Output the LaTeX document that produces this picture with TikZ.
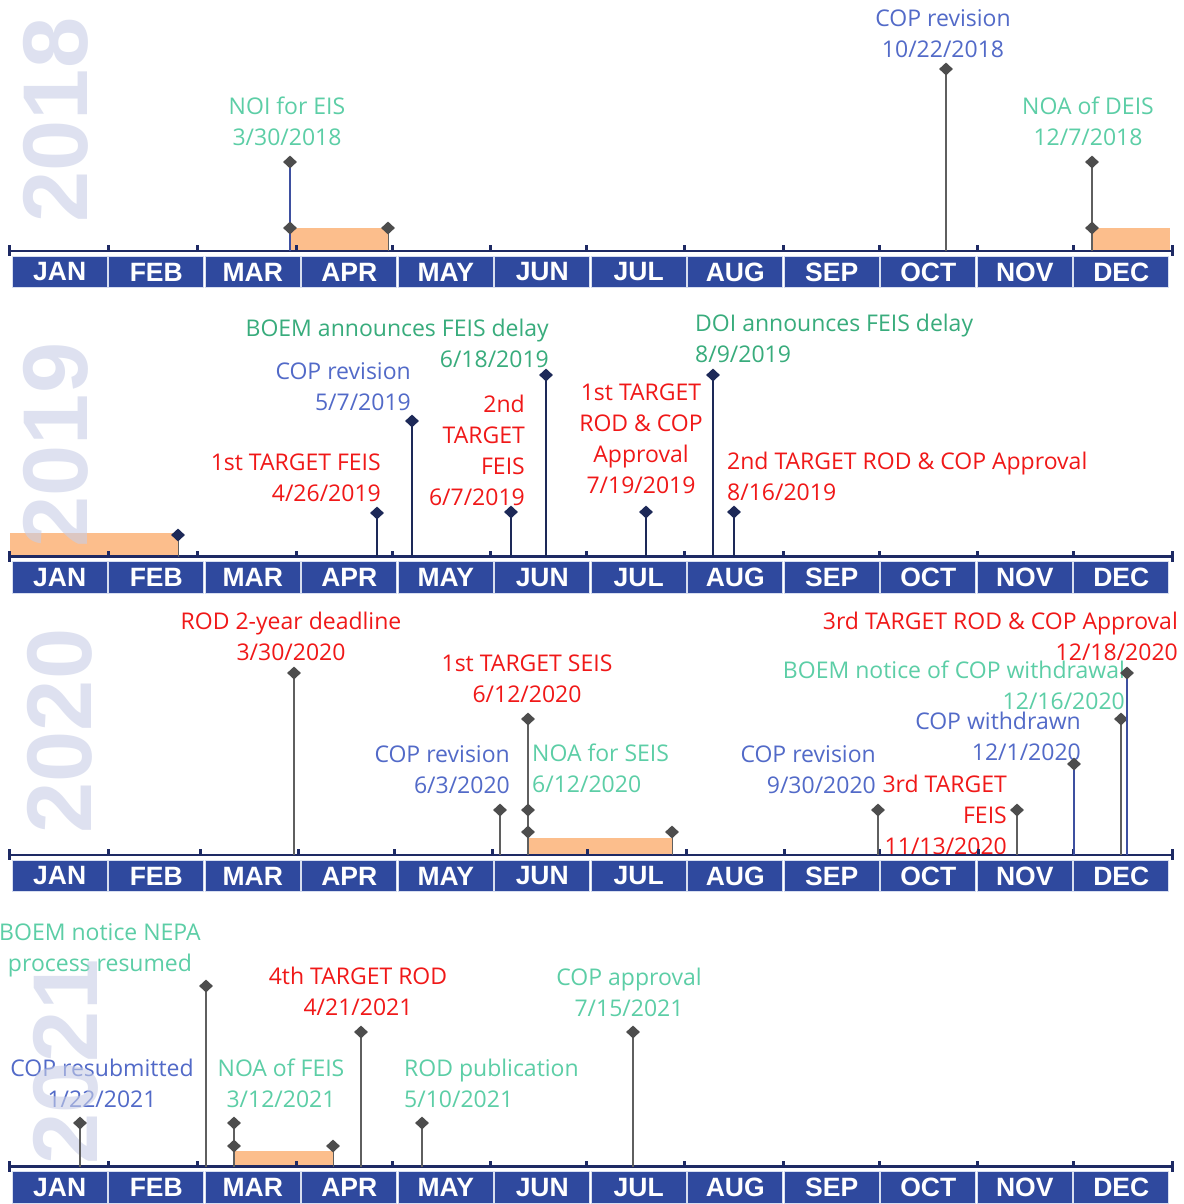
\documentclass[tikz,border=0pt]{standalone}
\usepackage{fontspec}
\setmainfont{Open Sans}
\newfontfamily\monthfont{Liberation Sans}
\usetikzlibrary{shapes.geometric}

\definecolor{evgreen}{RGB}{92,206,166}
\definecolor{evgreendk}{RGB}{56,172,124}
\definecolor{evblue}{RGB}{82,106,200}
\definecolor{evred}{RGB}{240,24,24}
\definecolor{axisnavy}{RGB}{30,42,100}
\definecolor{monthblue}{RGB}{47,73,158}
\definecolor{boxedge}{RGB}{215,222,240}
\definecolor{barorange}{RGB}{252,190,140}
\definecolor{diagray}{RGB}{77,77,77}
\definecolor{stemgray}{RGB}{95,95,95}
\definecolor{dianavy}{RGB}{29,41,88}
\definecolor{stemblu}{RGB}{62,80,160}
\definecolor{yearwm}{RGB}{200,206,230}

\tikzset{
  evtext/.style={inner sep=0pt, font=\fontsize{23}{31}\selectfont},
  ctr/.style={evtext, align=center},
  rgt/.style={evtext, align=right, anchor=east},
  lft/.style={evtext, align=left, anchor=west},
  dmd/.style={diamond, fill=diagray, minimum width=14pt, minimum height=13pt, inner sep=0pt},
  dmdnavy/.style={dmd, fill=dianavy},
  stemline/.style={draw=stemgray, line width=1.4pt},
  stemthin/.style={draw=stemgray, line width=0.9pt},
  stemnavy/.style={draw=dianavy, line width=1.6pt},
  stemblue/.style={draw=stemblu, line width=1.6pt},
  axisline/.style={draw=axisnavy, line width=2.6pt},
  monthbox/.style={fill=monthblue, draw=boxedge, line width=1.4pt,
    minimum width=95pt, minimum height=31.5pt, inner sep=0pt, text=white,
    font=\monthfont\bfseries\fontsize{26.5}{26.5}\selectfont},
  period/.style={fill=barorange},
  yearmark/.style={rotate=90, text=yearwm, text opacity=0.6, inner sep=0pt,
    font=\monthfont\bfseries\fontsize{92}{92}\selectfont},
}

% one year: axis line, month-start ticks (true date scale), equal month boxes
\newcommand\timeaxis[3]{%
  \coordinate (#1) at (8,#2);
  \coordinate (#1-end) at (1172,#2);
  \draw[axisline] (#1) -- (#1-end);
  \foreach \t in {#3} {\fill[axisnavy] ({\t-1.5},#2) rectangle ({\t+1.5},{#2-6});}
  \fill[axisnavy] (7.5,{#2-6}) rectangle (10.5,{#2+5});
  \fill[axisnavy] (1170.5,{#2-6}) rectangle (1173.5,{#2+5});
  \foreach \m [count=\i from 0] in {JAN,FEB,MAR,APR,MAY,JUN,JUL,AUG,SEP,OCT,NOV,DEC}
    \node[monthbox] (#1-\m) at ({59.75+96.5*\i},{#2+21}) {\m};
}

% one milestone: stem from the marker down to the axis, then the marker
\newcommand\evt[6]{%
  \coordinate (#1) at (#2,#3);
  \draw[#5] (#1) -- (#1 |- #4);
  \node[#6] (#1-m) at (#1) {};
}

\begin{document}
\begin{tikzpicture}[x=1pt,y=-1pt]
\useasboundingbox[fill=white] (0,0) rectangle (1183,1204);

% comment periods
\fill[period] (290,228) rectangle (388,251);
\fill[period] (1092,228) rectangle (1170,251);
\fill[period] (10,533) rectangle (178,556.5);
\fill[period] (528,838) rectangle (672,855);
\fill[period] (234,1151) rectangle (333,1166.5);

% 2018 labels
\node[ctr, text=evgreen] (a1t) at (287,121.5) {NOI for EIS\\3/30/2018};
\node[ctr, text=evblue] (a2t) at (943,33.5) {COP revision\\10/22/2018};
\node[ctr, text=evgreen] (a3t) at (1088,121.5) {NOA of DEIS\\12/7/2018};

% 2019 labels
\node[rgt, text=evred] (b1t) at (381,477.5) {1st TARGET FEIS\\4/26/2019};
\node[rgt, text=evblue] (b2t) at (411,386.5) {COP revision\\5/7/2019};
\node[rgt, text=evred] (b3t) at (525,450.5) {2nd\\TARGET\\FEIS\\6/7/2019};
\node[rgt, text=evgreendk] (b4t) at (549,343.5) {BOEM announces FEIS delay\\6/18/2019};
\node[ctr, text=evred] (b5t) at (641,439) {1st TARGET\\ROD \& COP\\Approval\\7/19/2019};
\node[lft, text=evgreendk] (b6t) at (695,338.5) {DOI announces FEIS delay\\8/9/2019};
\node[lft, text=evred] (b7t) at (727,476) {2nd TARGET ROD \& COP Approval\\8/16/2019};

% 2020 labels
\node[ctr, text=evred] (c1t) at (291,636.5) {ROD 2-year deadline\\3/30/2020};
\node[ctr, text=evred] (c2t) at (527,678.5) {1st TARGET SEIS\\6/12/2020};
\node[rgt, text=evblue] (c3t) at (510,769.5) {COP revision\\6/3/2020};
\node[lft, text=evgreen] (c4t) at (532,768.5) {NOA for SEIS\\6/12/2020};
\node[rgt, text=evblue] (c5t) at (876,769.5) {COP revision\\9/30/2020};
\node[rgt, text=evred] (c6t) at (1007,814.5) {3rd TARGET\\FEIS\\11/13/2020};
\node[rgt, text=evblue] (c7t) at (1081,736.5) {COP withdrawn\\12/1/2020};
\node[rgt, text=evgreen] (c8t) at (1125,685.5) {BOEM notice of COP withdrawal\\12/16/2020};
\node[rgt, text=evred] (c9t) at (1178,636.5) {3rd TARGET ROD \& COP Approval\\12/18/2020};

% 2021 labels
\node[ctr, text=evgreen] (d1t) at (100,950.5) {BOEM notice NEPA\\process resumed};
\node[ctr, text=evblue] (d2t) at (102,1083.5) {COP resubmitted\\1/22/2021};
\node[ctr, text=evgreen] (d3t) at (281,1083.5) {NOA of FEIS\\3/12/2021};
\node[ctr, text=evred] (d4t) at (358,991.5) {4th TARGET ROD\\4/21/2021};
\node[lft, text=evgreen] (d5t) at (404,1083.5) {ROD publication\\5/10/2021};
\node[ctr, text=evgreen] (d6t) at (629,992.5) {COP approval\\7/15/2021};

% year watermarks
\node[yearmark] (y18) at (56,120) {2018};
\node[yearmark] (y19) at (56,445) {2019};
\node[yearmark] (y20) at (60,731) {2020};
\node[yearmark] (y21) at (66,1062) {2021};

% axes
\timeaxis{ax18}{251}{108.7,197.9,296.5,392.0,490.7,586.2,684.9,783.6,879.1,977.8,1073.3}
\timeaxis{ax19}{556.5}{108.7,197.9,296.5,392.0,490.7,586.2,684.9,783.6,879.1,977.8,1073.3}
\timeaxis{ax20}{855}{108.4,200.5,298.9,394.2,492.6,587.8,686.3,784.7,879.9,978.4,1073.6}
\timeaxis{ax21}{1166.5}{108.7,197.9,296.5,392.0,490.7,586.2,684.9,783.6,879.1,977.8,1073.3}

% 2018 milestones
\evt{a1}{290}{162}{ax18}{stemblue}{dmd}
\evt{a1s}{290}{228}{ax18}{stemblue}{dmd}
\evt{a1e}{388}{228}{ax18}{stemthin}{dmd}
\evt{a2}{946}{69}{ax18}{stemline}{dmd}
\evt{a3}{1092}{162}{ax18}{stemline}{dmd}
\evt{a3s}{1092}{228}{ax18}{stemline}{dmd}

% 2019 milestones
\evt{b0e}{178}{535}{ax19}{stemthin}{dmdnavy}
\evt{b1}{377}{513}{ax19}{stemnavy}{dmdnavy}
\evt{b2}{412}{421}{ax19}{stemnavy}{dmdnavy}
\evt{b3}{511}{512}{ax19}{stemnavy}{dmdnavy}
\evt{b4}{546}{375}{ax19}{stemnavy}{dmdnavy}
\evt{b5}{646}{512}{ax19}{stemnavy}{dmdnavy}
\evt{b6}{713}{375}{ax19}{stemnavy}{dmdnavy}
\evt{b7}{734}{512}{ax19}{stemnavy}{dmdnavy}

% 2020 milestones
\evt{c1}{294}{673}{ax20}{stemline}{dmd}
\evt{c2}{528}{719}{ax20}{stemline}{dmd}
\evt{c4}{528}{810}{ax20}{stemline}{dmd}
\evt{c4s}{528}{832}{ax20}{stemline}{dmd}
\evt{c4e}{672}{832}{ax20}{stemthin}{dmd}
\evt{c3}{500}{810}{ax20}{stemline}{dmd}
\evt{c5}{878}{810}{ax20}{stemline}{dmd}
\evt{c6}{1017}{810}{ax20}{stemline}{dmd}
\evt{c7}{1074}{764}{ax20}{stemblue}{dmd}
\evt{c8}{1121}{719}{ax20}{stemline}{dmd}
\evt{c9}{1127}{673}{ax20}{stemblue}{dmd}

% 2021 milestones
\evt{d1}{206}{986}{ax21}{stemline}{dmd}
\evt{d2}{80}{1123}{ax21}{stemline}{dmd}
\evt{d3}{234}{1123}{ax21}{stemline}{dmd}
\evt{d3s}{234}{1146}{ax21}{stemline}{dmd}
\evt{d3e}{333}{1146}{ax21}{stemthin}{dmd}
\evt{d4}{361}{1032}{ax21}{stemline}{dmd}
\evt{d5}{422}{1123}{ax21}{stemline}{dmd}
\evt{d6}{633}{1032}{ax21}{stemline}{dmd}
\end{tikzpicture}
\end{document}
